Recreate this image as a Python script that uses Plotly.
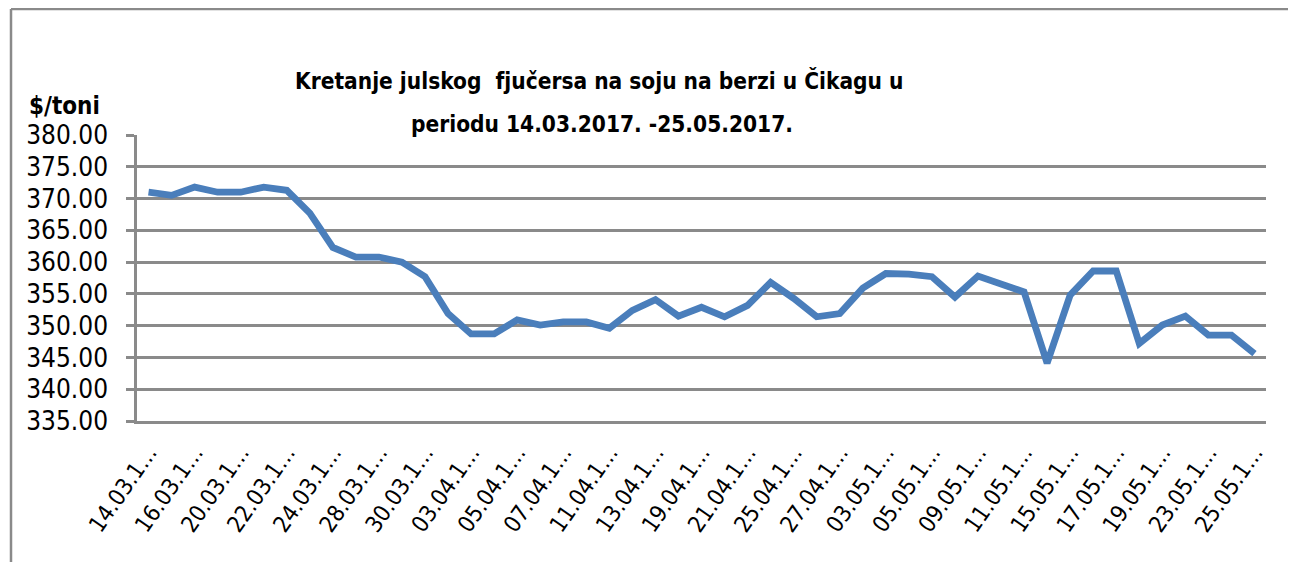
import plotly.graph_objects as go

dates = [
    "14.03.2017", "15.03.2017", "16.03.2017", "17.03.2017", "20.03.2017", "21.03.2017",
    "22.03.2017", "23.03.2017", "24.03.2017", "27.03.2017", "28.03.2017", "29.03.2017",
    "30.03.2017", "31.03.2017", "03.04.2017", "04.04.2017", "05.04.2017", "06.04.2017",
    "07.04.2017", "10.04.2017", "11.04.2017", "12.04.2017", "13.04.2017", "18.04.2017",
    "19.04.2017", "20.04.2017", "21.04.2017", "24.04.2017", "25.04.2017", "26.04.2017",
    "27.04.2017", "28.04.2017", "03.05.2017", "04.05.2017", "05.05.2017", "08.05.2017",
    "09.05.2017", "10.05.2017", "11.05.2017", "12.05.2017", "15.05.2017", "16.05.2017",
    "17.05.2017", "18.05.2017", "19.05.2017", "22.05.2017", "23.05.2017", "24.05.2017",
    "25.05.2017",
]

prices = [
    371.0, 370.5, 371.8, 371.0, 371.0, 371.8, 371.3, 367.7, 362.3, 360.8,
    360.8, 360.0, 357.7, 351.9, 348.7, 348.7, 350.9, 350.1, 350.6, 350.6,
    349.6, 352.4, 354.1, 351.5, 352.9, 351.4, 353.2, 356.8, 354.3, 351.4,
    351.9, 355.9, 358.2, 358.1, 357.7, 354.5, 357.8, 356.6, 355.3, 344.1,
    354.8, 358.6, 358.6, 347.2, 350.1, 351.5, 348.5, 348.5, 345.6,
]

tick_labels = [
    "14.03.1…", "16.03.1…", "20.03.1…", "22.03.1…", "24.03.1…", "28.03.1…",
    "30.03.1…", "03.04.1…", "05.04.1…", "07.04.1…", "11.04.1…", "13.04.1…",
    "19.04.1…", "21.04.1…", "25.04.1…", "27.04.1…", "03.05.1…", "05.05.1…",
    "09.05.1…", "11.05.1…", "15.05.1…", "17.05.1…", "19.05.1…", "23.05.1…",
    "25.05.1…",
]

title_line1 = "Kretanje julskog  fjučersa na soju na berzi u Čikagu u"
title_line2 = "periodu 14.03.2017. -25.05.2017."
y_label = "$/toni"

FONT = "DejaVu Sans Condensed, Liberation Sans Narrow, sans-serif"
GRID = "#8a8a8a"

# the page places the figure 8 px in from the top-left corner
OFF = 8
W, H = 1296 - OFF, 562 - OFF
# plot area in page pixels: x 137..1266, y 135..421
L = 137 - OFF
R = W - (1266 - OFF)
T = 135 - OFF
B = H - (421 - OFF)
pw = W - L - R
ph = H - T - B


def px(x):
    """page pixel x -> paper coordinate"""
    return (x - OFF - L) / pw


def py(y):
    """page pixel y -> paper coordinate"""
    return (H - B - (y - OFF)) / ph


fig = go.Figure()
fig.add_trace(go.Scatter(
    x=dates, y=prices, mode="lines",
    line=dict(color="#4a7ebb", width=6.8),
    hoverinfo="x+y", showlegend=False,
))

fig.update_layout(
    width=W, height=H,
    margin=dict(l=L, r=R, t=T, b=B, pad=0, autoexpand=False),
    paper_bgcolor="white", plot_bgcolor="white",
    font=dict(family=FONT, color="black"),
    xaxis=dict(
        type="category",
        range=[-0.5, len(dates) - 0.5],
        tickmode="array",
        tickvals=dates[::2],
        ticktext=tick_labels,
        tickangle=-55,
        tickfont=dict(size=23, family=FONT, color="black"),
        showgrid=False,
        showline=True, linecolor=GRID, linewidth=2.5,
        ticks="", automargin=False,
        zeroline=False,
        ticklabelstandoff=6,
    ),
    yaxis=dict(
        range=[335, 380],
        dtick=5,
        tick0=335,
        tickformat=".2f",
        tickfont=dict(size=26, family=FONT, color="black"),
        showgrid=True, gridcolor=GRID, gridwidth=2.5,
        showline=True, linecolor=GRID, linewidth=2.5,
        ticks="outside", ticklen=8, tickwidth=2.5, tickcolor=GRID,
        zeroline=False, automargin=False,
        ticklabelstandoff=13,
    ),
    annotations=[
        dict(text=title_line1, xref="paper", yref="paper", x=px(599), y=py(80),
             xanchor="center", yanchor="middle", showarrow=False,
             font=dict(size=22.5, family=FONT, color="black", weight="bold")),
        dict(text=title_line2, xref="paper", yref="paper", x=px(602), y=py(124),
             xanchor="center", yanchor="middle", showarrow=False,
             font=dict(size=22.5, family=FONT, color="black", weight="bold")),
        dict(text=y_label, xref="paper", yref="paper", x=px(64), y=py(106),
             xanchor="center", yanchor="middle", showarrow=False,
             font=dict(size=24, family=FONT, color="black", weight="bold")),
    ],
    shapes=[
        dict(type="line", xref="paper", yref="paper",
             x0=px(11), x1=px(11), y0=py(9), y1=py(575),
             line=dict(color=GRID, width=2.5)),
        dict(type="line", xref="paper", yref="paper",
             x0=px(11), x1=px(1310), y0=py(9), y1=py(9),
             line=dict(color=GRID, width=2.5)),
    ],
)

fig.write_html("out.html")
